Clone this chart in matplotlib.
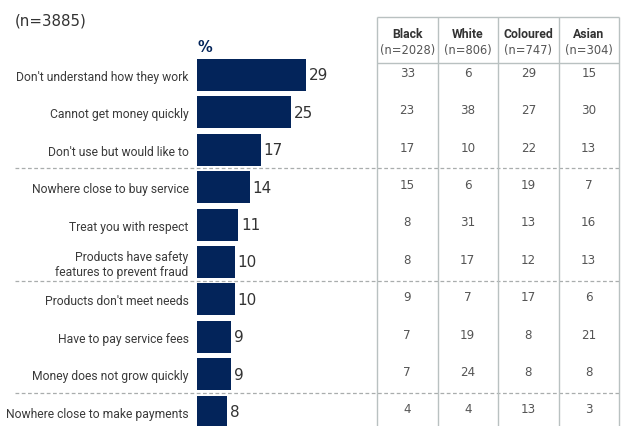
import matplotlib.pyplot as plt

# Reasons for not using the products, total and by population group
reasons = [
    "Don't understand how they work",
    "Cannot get money quickly",
    "Don't use but would like to",
    "Nowhere close to buy service",
    "Treat you with respect",
    "Products have safety\nfeatures to prevent fraud",
    "Products don't meet needs",
    "Have to pay service fees",
    "Money does not grow quickly",
    "Nowhere close to make payments",
]
total = [29, 25, 17, 14, 11, 10, 10, 9, 9, 8]

groups = ["Black", "White", "Coloured", "Asian"]
group_n = ["(n=2028)", "(n=806)", "(n=747)", "(n=304)"]
black = [33, 23, 17, 15, 8, 8, 9, 7, 7, 4]
white = [6, 38, 10, 6, 31, 17, 7, 19, 24, 4]
coloured = [29, 27, 22, 19, 13, 12, 17, 8, 8, 13]
asian = [15, 30, 13, 7, 16, 13, 6, 21, 8, 3]
group_values = [black, white, coloured, asian]

# rows after which a dashed separator is drawn
breaks = [2, 5, 8]

navy = "#03245a"
grid_col = "#b9c1c1"
narrow = ["Roboto", "DejaVu Sans"]

W, H = 627, 427
fig = plt.figure(figsize=(W / 100, H / 100), dpi=100)

rows = list(range(len(reasons)))
ylim = (9.385, -2.032)
head_top, head_bot = -1.55, -0.32

# background axes for the dashed separators
bg = fig.add_axes([0, 0, 1, 1])
bg.set_xlim(0, 1)
bg.set_ylim(*ylim)
bg.axis("off")
for b in breaks:
    bg.axhline(b + 0.5, xmin=15 / W, xmax=620 / W, color="#a9adad",
               lw=0.9, ls=(0, (3, 2)))

# horizontal bars
ax = fig.add_axes([197 / W, 0, 173 / W, 1])
ax.patch.set_alpha(0)
ax.barh(rows, total, height=0.855, color=navy)
ax.set_xlim(0, 46.1)
ax.set_ylim(*ylim)
ax.set_yticks(rows)
ax.set_yticklabels(reasons, family=narrow, fontsize=8.7, color="#3a3a3a",
                   linespacing=1.15)
ax.tick_params(axis="y", length=0, pad=6)
ax.set_xticks([])
for s in ax.spines.values():
    s.set_visible(False)
for y, v in zip(rows, total):
    ax.text(v + 0.8, y, str(v), va="center", ha="left", fontsize=11,
            color="#333333")
ax.text(0, -0.76, "%", fontsize=10.5, fontweight="bold", color=navy,
        va="center", ha="left")

fig.text(15 / W, 1 - 21 / H, "(n=3885)", fontsize=10.8, color="#333333",
         va="center", ha="left")

# breakdown table
tb = fig.add_axes([377 / W, 0, 242 / W, 1])
tb.patch.set_alpha(0)
tb.set_xlim(0, 4)
tb.set_ylim(*ylim)
tb.axis("off")
tb.vlines(range(5), head_top, ylim[0], color=grid_col, lw=1, clip_on=False)
tb.hlines([head_top, head_bot], 0, 4, color=grid_col, lw=1, clip_on=False)
for i, (g, n, vals) in enumerate(zip(groups, group_n, group_values)):
    cx = i + 0.5
    tb.text(cx, -1.12, g, family=narrow, fontsize=8.8, fontweight="bold",
            color="#333333", ha="center", va="center")
    tb.text(cx, -0.69, n, fontsize=8.3, color="#555555",
            ha="center", va="center")
    for y, v in zip(rows, vals):
        tb.text(cx, y - 0.07, str(v), fontsize=8.6, color="#555555",
                ha="center", va="center")

fig.savefig("out.png", dpi=100)
